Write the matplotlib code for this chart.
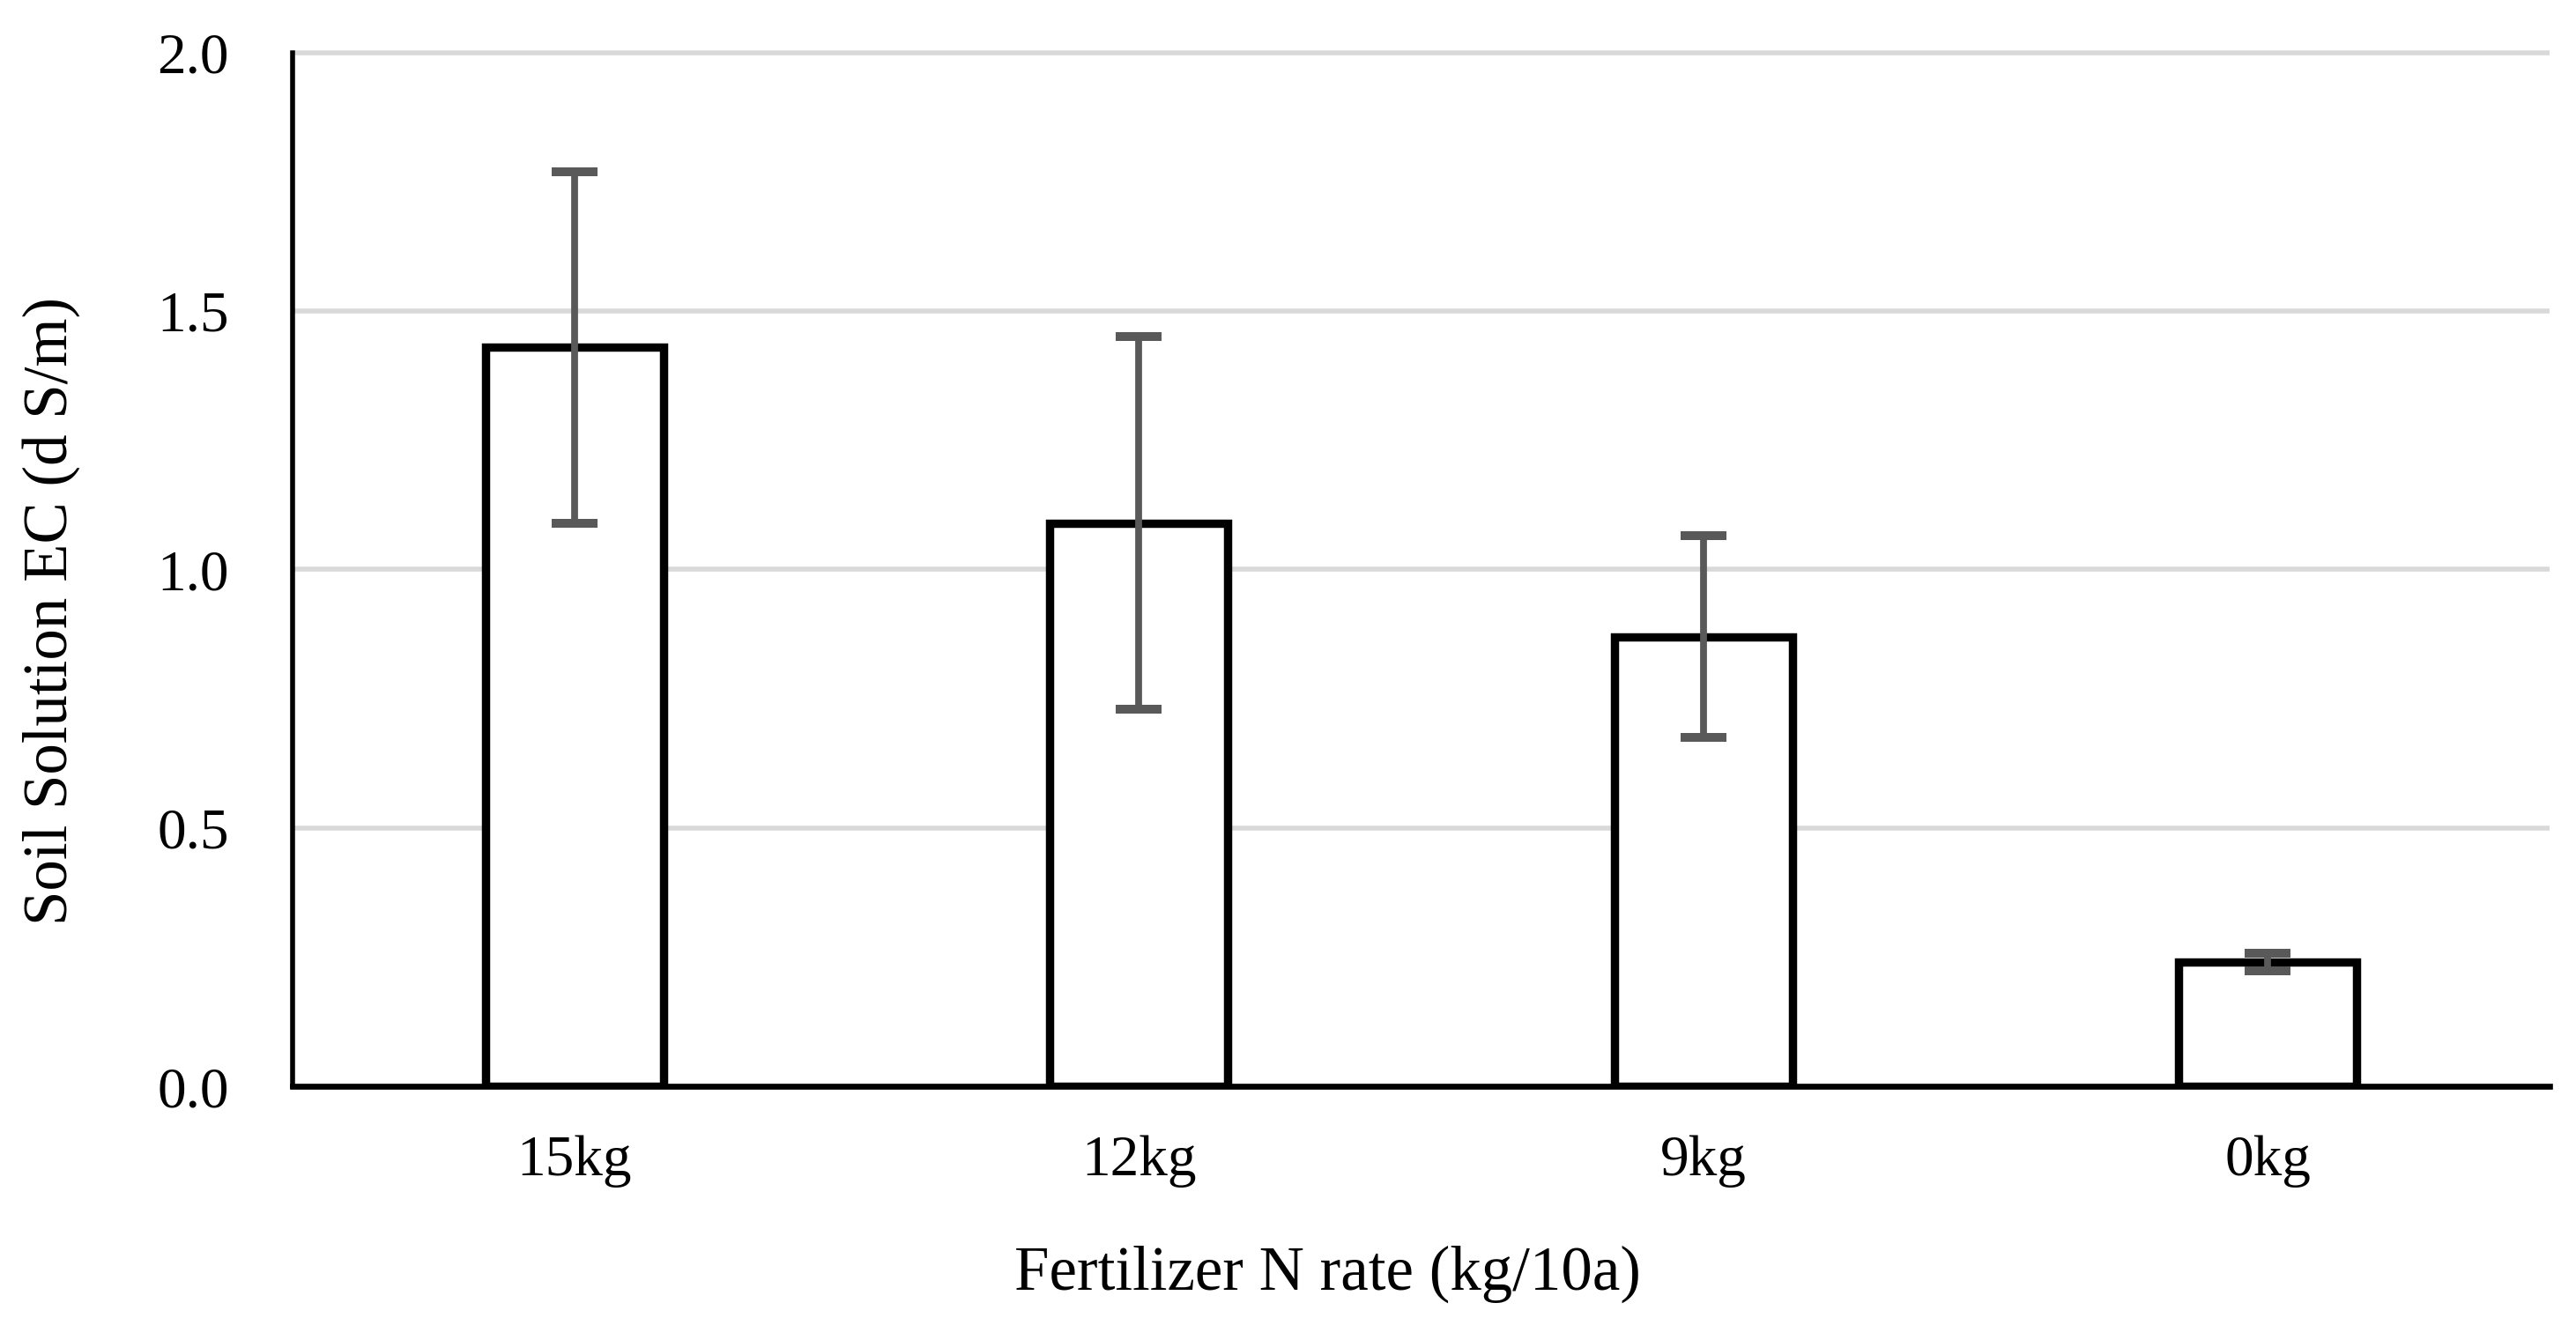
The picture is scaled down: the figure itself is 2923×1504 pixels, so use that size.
import matplotlib
matplotlib.use("Agg")
import matplotlib.pyplot as plt
import numpy as np

categories = ["15kg", "12kg", "9kg", "0kg"]
values = [1.43, 1.09, 0.87, 0.24]
errors = [0.34, 0.36, 0.195, 0.017]
yticks = [0.0, 0.5, 1.0, 1.5, 2.0]
ytick_labels = ["0.0", "0.5", "1.0", "1.5", "2.0"]

plt.rcParams['font.family'] = ['Liberation Serif', 'DejaVu Serif']

left, right, bottom, top = 0.1135, 0.9898, 0.1800, 0.9603
extra = 0.01
fig = plt.figure(figsize=(2923/200, 1504/200), dpi=200)
ax = fig.add_axes([left, bottom, right - left, top - bottom + extra])

x = np.arange(len(categories))
ax.set_xlim(-0.5, len(categories) - 0.5)
ax.set_ylim(0, 2.0 * (1 + extra / (top - bottom)))

for yv in yticks[1:]:
    ax.axhline(yv, color="#d9d9d9", lw=2.0, zorder=0)

ax.bar(x, values, width=0.315, color="white", edgecolor="black", linewidth=3.4,
       zorder=2, joinstyle="miter")
ax.errorbar(x, values, yerr=errors, fmt="none", ecolor="#595959", elinewidth=2.8,
            capsize=9.5, capthick=3.6, zorder=3)

for s in ["top", "right"]:
    ax.spines[s].set_visible(False)
ax.spines["left"].set_bounds(0, 2.0)
ax.spines["left"].set_linewidth(2.0)
ax.spines["bottom"].set_linewidth(2.4)
ax.spines["left"].set_zorder(4)
ax.spines["bottom"].set_zorder(4)

ax.set_yticks(yticks)
ax.set_yticklabels(ytick_labels)
ax.set_xticks(x)
ax.set_xticklabels(categories)
ax.tick_params(axis="y", length=0, pad=26, labelsize=23.5)
ax.tick_params(axis="x", length=0, pad=20, labelsize=23.5)

fig.text(0.5155, 0.0266, "Fertilizer N rate (kg/10a)", ha="center", va="baseline", fontsize=25.5)
fig.text(0.0200, 0.539, "Soil Solution EC (d S/m)", ha="center", va="center", rotation=90, fontsize=25.5)

fig.savefig("out.png", dpi=200)
